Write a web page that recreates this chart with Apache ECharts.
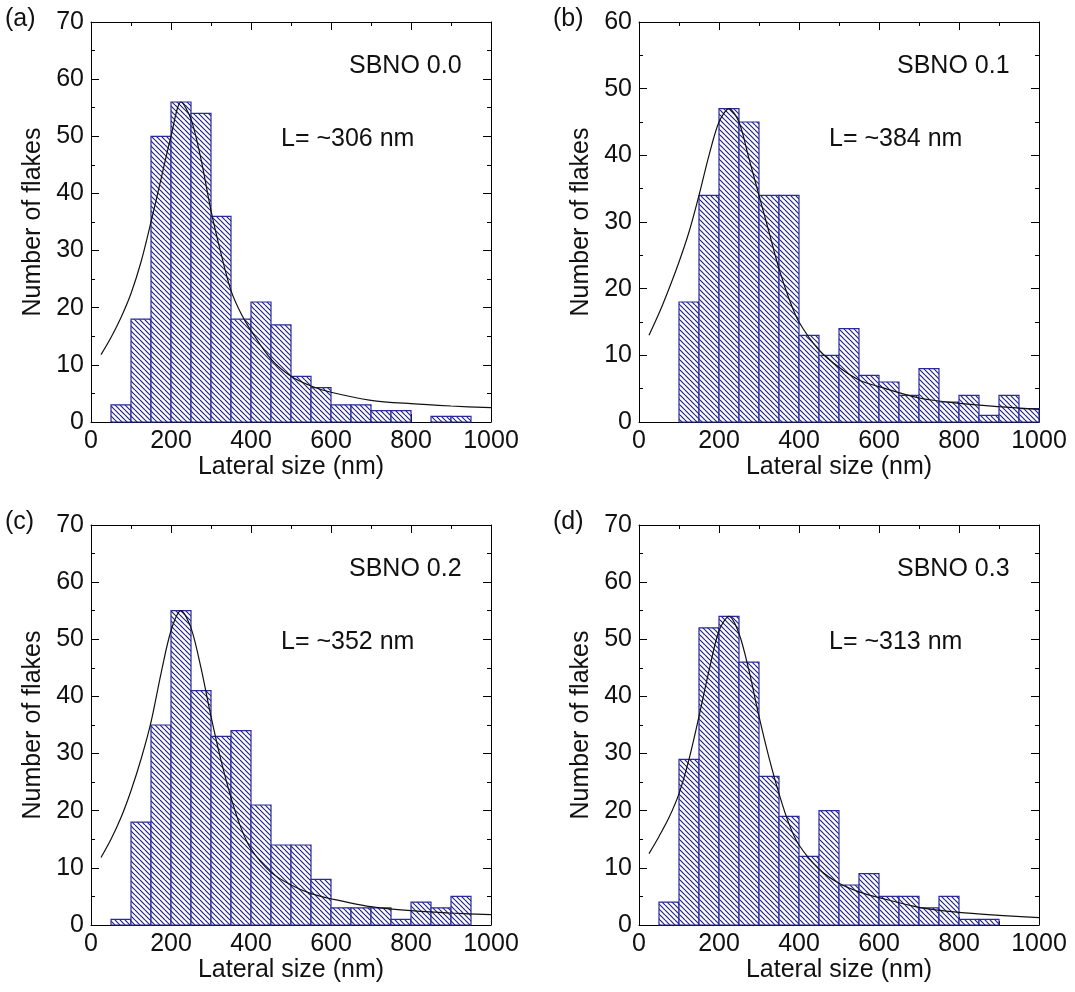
<!DOCTYPE html>
<html>
<head>
<meta charset="utf-8">
<script src="https://cdn.jsdelivr.net/npm/echarts@6/dist/echarts.min.js"></script>
<style>
  html, body { margin: 0; padding: 0; background: #fff; }
  #chart { width: 1075px; height: 992px; }
</style>
</head>
<body>
<div id="chart"></div>
<script>
// histogram bins (nm), 50 nm wide
const binStarts = [50, 100, 150, 200, 250, 300, 350, 400, 450, 500, 550, 600, 650, 700, 750, 800, 850, 900, 950];
const binWidth = 50;

const countsA = [3, 18, 50, 56, 54, 36, 18, 21, 17, 8, 6, 3, 3, 2, 2, 0, 1, 1, 0];
const countsB = [0, 18, 34, 47, 45, 34, 34, 13, 10, 14, 7, 6, 4, 8, 3, 4, 1, 4, 2];
const countsC = [1, 18, 35, 55, 41, 33, 34, 21, 14, 14, 8, 3, 3, 3, 1, 4, 3, 5, 0];
const countsD = [4, 29, 52, 54, 46, 26, 19, 12, 20, 7, 9, 5, 5, 3, 5, 1, 1, 0, 0];

// fitted curves
const fitX = [25, 50, 75, 100, 125, 150, 175, 200, 225, 250, 275, 300, 325, 350, 375, 400, 450, 500, 550, 600, 700, 800, 900, 1000];
const fitA = [11.8, 14.8, 18.3, 22.5, 28, 35, 42.5, 50, 56, 53, 46, 37, 29.5, 23, 19, 16, 11, 8, 6.3, 5.2, 3.8, 3.2, 2.8, 2.5];
const fitB = [13, 16.3, 20, 24, 28.5, 34, 40, 45, 47, 45, 39.5, 34, 28.5, 23, 18.5, 15, 10.8, 8.2, 6.3, 5.3, 3.6, 2.8, 2.3, 1.9];
const fitC = [11.8, 15, 18.8, 23.5, 29, 35.5, 44, 51.5, 55, 52, 45, 36.5, 28.8, 22.3, 17, 13.3, 9.2, 7, 5.5, 4.6, 3.2, 2.5, 2.1, 1.8];
const fitD = [12.5, 15.5, 18.8, 23, 29, 36.5, 44.5, 51.5, 54, 51, 44.5, 36.5, 29.3, 23, 17.7, 14, 9.8, 7.3, 5.8, 4.8, 3.1, 2.2, 1.7, 1.3];

const panelLabels = ['(a)', '(b)', '(c)', '(d)'];
const sampleNames = ['SBNO 0.0', 'SBNO 0.1', 'SBNO 0.2', 'SBNO 0.3'];
const sizeNotes = ['L= ~306 nm', 'L= ~384 nm', 'L= ~352 nm', 'L= ~313 nm'];
const yMax = [70, 60, 70, 70];

const panels = [
  { counts: countsA, fit: fitA, left: 91, top: 22 },
  { counts: countsB, fit: fitB, left: 639, top: 22 },
  { counts: countsC, fit: fitC, left: 91, top: 525 },
  { counts: countsD, fit: fitD, left: 639, top: 525 }
];

const FONT = 'Liberation Sans, Arial, Helvetica, sans-serif';
const FS = 25;

// hatch tile  "\\\\"
const hatch = document.createElement('canvas');
hatch.width = 5;
hatch.height = 5;
(function () {
  const ctx = hatch.getContext('2d');
  ctx.fillStyle = '#fff';
  ctx.fillRect(0, 0, 5, 5);
  ctx.strokeStyle = '#22228a';
  ctx.lineWidth = 1.2;
  [-5, 0, 5].forEach(c => {
    ctx.beginPath();
    ctx.moveTo(0, c);
    ctx.lineTo(5, c + 5);
    ctx.stroke();
  });
})();

const grids = [], xAxes = [], yAxes = [], series = [], graphics = [];

panels.forEach((p, i) => {
  grids.push({ left: p.left, top: p.top, width: 400, height: 400 });

  const common = {
    gridIndex: i,
    axisLine: { show: true, onZero: false, lineStyle: { color: '#000', width: 1 } },
    axisTick: { show: true, inside: true, length: 8, lineStyle: { color: '#000' } },
    minorTick: { show: true, inside: true, splitNumber: 2, length: 4, lineStyle: { color: '#000' } },
    splitLine: { show: false }
  };

  xAxes.push(Object.assign({}, common, {
    type: 'value', position: 'bottom', min: 0, max: 1000, interval: 200,
    axisLabel: { fontFamily: FONT, fontSize: FS, color: '#111', margin: 7, formatter: v => String(v) },
    name: 'Lateral size (nm)', nameLocation: 'middle', nameGap: 33,
    nameTextStyle: { fontFamily: FONT, fontSize: FS, color: '#111' }
  }));
  xAxes.push(Object.assign({}, common, {
    type: 'value', position: 'top', min: 0, max: 1000, interval: 200,
    axisLabel: { show: false }
  }));
  yAxes.push(Object.assign({}, common, {
    type: 'value', position: 'left', min: 0, max: yMax[i], interval: 10,
    axisLabel: { fontFamily: FONT, fontSize: FS, color: '#111', margin: 7 },
    name: 'Number of flakes', nameLocation: 'middle', nameGap: 45,
    nameTextStyle: { fontFamily: FONT, fontSize: FS, color: '#111' }
  }));
  yAxes.push(Object.assign({}, common, {
    type: 'value', position: 'right', min: 0, max: yMax[i], interval: 10,
    axisLabel: { show: false }
  }));

  series.push({
    type: 'custom',
    xAxisIndex: 2 * i,
    yAxisIndex: 2 * i,
    data: binStarts.map((b, k) => [b, b + binWidth, p.counts[k]]).filter(d => d[2] > 0),
    encode: { x: [0, 1], y: 2 },
    renderItem: function (params, api) {
      const a = api.coord([api.value(0), api.value(2)]);
      const b = api.coord([api.value(1), 0]);
      return {
        type: 'rect',
        shape: { x: a[0], y: a[1], width: b[0] - a[0], height: b[1] - a[1] },
        style: { fill: { image: hatch, repeat: 'repeat' }, stroke: '#2a2a9c', lineWidth: 1.2 }
      };
    },
    z: 2
  });

  series.push({
    type: 'line',
    xAxisIndex: 2 * i,
    yAxisIndex: 2 * i,
    data: fitX.map((x, k) => [x, p.fit[k]]),
    smooth: 0.3,
    showSymbol: false,
    lineStyle: { color: '#111', width: 1.2 },
    z: 3
  });

  graphics.push({
    type: 'text', left: p.left - 86, top: p.top - 15,
    style: { text: panelLabels[i], font: FS + 'px ' + FONT, fill: '#111' }
  });
  graphics.push({
    type: 'text', left: p.left + 258, top: p.top + 32,
    style: { text: sampleNames[i], font: FS + 'px ' + FONT, fill: '#111' }
  });
  graphics.push({
    type: 'text', left: p.left + 190, top: p.top + 105,
    style: { text: sizeNotes[i], font: FS + 'px ' + FONT, fill: '#111' }
  });
});

const chart = echarts.init(document.getElementById('chart'));
chart.setOption({
  backgroundColor: '#fff',
  animation: false,
  grid: grids,
  xAxis: xAxes,
  yAxis: yAxes,
  series: series,
  graphic: graphics
});
</script>
</body>
</html>
